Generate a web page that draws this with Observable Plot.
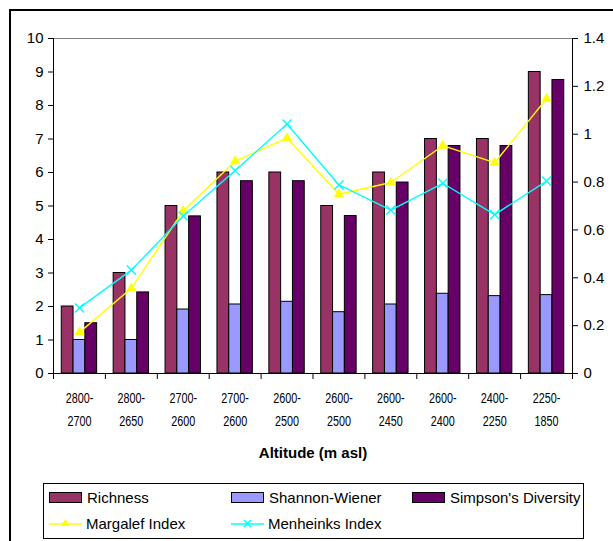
<!DOCTYPE html>
<html>
<head>
<meta charset="utf-8">
<script src="https://cdn.jsdelivr.net/npm/d3@7"></script>
<script src="https://cdn.jsdelivr.net/npm/@observablehq/plot@0.6"></script>
<style>
  html, body { margin: 0; padding: 0; background: #fff; }
  body { width: 613px; height: 541px; position: relative; overflow: hidden; font-family: "Liberation Sans", Arial, sans-serif; }
  #frame { position: absolute; left: 9px; top: 9px; width: 700px; height: 700px; border-top: 2px solid #000; border-left: 2px solid #000; }
  #chart { position: absolute; left: 0; top: 0; }
  #legend { position: absolute; left: 43px; top: 483px; width: 539px; height: 54px; border: 1px solid #000; background: #fff; }
  .item { position: absolute; height: 20px; display: flex; align-items: center; font-size: 15px; color: #000; white-space: nowrap; }
  .sw { width: 31px; height: 9px; border: 1px solid #000; margin-right: 5px; }
  .lsw { margin-right: 4px; }
</style>
</head>
<body>
<div id="frame"></div>
<div id="chart"></div>
<div id="legend"></div>
<script>
// ---- data ----
const categories = ["2800-\n2700", "2800-\n2650", "2700-\n2600", "2700-\n2600", "2600-\n2500",
                    "2600-\n2500", "2600-\n2450", "2600-\n2400", "2400-\n2250", "2250-\n1850"];
// left axis series
const richness = [2, 3, 5, 6, 6, 5, 6, 7, 7, 9];
const shannonWiener = [1.0, 1.0, 1.91, 2.06, 2.14, 1.83, 2.06, 2.38, 2.31, 2.34];
const simpsons = [1.5, 2.42, 4.69, 5.74, 5.74, 4.70, 5.70, 6.79, 6.79, 8.76];
// right axis series
const margalef = [0.172, 0.356, 0.68, 0.887, 0.984, 0.749, 0.798, 0.952, 0.881, 1.148];
const menhinick = [0.274, 0.432, 0.658, 0.848, 1.043, 0.788, 0.683, 0.795, 0.664, 0.804];
const leftTicks = [0, 1, 2, 3, 4, 5, 6, 7, 8, 9, 10];
const rightTicks = [0, 0.2, 0.4, 0.6, 0.8, 1, 1.2, 1.4];
const axisTitle = "Altitude (m asl)";

// ---- layout helpers ----
const leftMax = 10, rightMax = 1.4;
const K = leftMax / rightMax;           // right-axis value -> left-axis units
const barW = 1 / 4.4;                   // Excel gap width 140%
const idx = categories.map((_, i) => i);
const bounds = d3.range(categories.length + 1).map(i => i - 0.5);

const barSeries = [
  {name: "Richness", values: richness, color: "#993366", slot: -1},
  {name: "Shannon-Wiener", values: shannonWiener, color: "#9999ff", slot: 0},
  {name: "Simpson's Diversity", values: simpsons, color: "#660066", slot: 1}
];
const barMarks = barSeries.map(s => Plot.rect(idx, {
  x1: i => i + s.slot * barW - barW / 2,
  x2: i => i + s.slot * barW + barW / 2,
  y1: 0,
  y2: i => s.values[i],
  fill: s.color,
  stroke: "#000",
  strokeWidth: 1
}));

const chart = Plot.plot({
  width: 613,
  height: 480,
  marginLeft: 53,
  marginRight: 41,
  marginTop: 38,
  marginBottom: 107,
  style: {fontFamily: "'Liberation Sans', Arial, sans-serif", fontSize: "15px", background: "transparent", color: "#000"},
  x: {type: "linear", domain: [-0.5, categories.length - 0.5]},
  y: {domain: [0, leftMax]},
  marks: [
    Plot.ruleY([leftMax], {stroke: "#808080", strokeWidth: 1.2}),
    ...barMarks,
    Plot.line(idx, {x: i => i, y: i => margalef[i] * K, stroke: "#ffff00", strokeWidth: 1.4}),
    Plot.dot(idx, {x: i => i, y: i => margalef[i] * K, symbol: "triangle", fill: "#ffff00", r: 3.8}),
    Plot.line(idx, {x: i => i, y: i => menhinick[i] * K, stroke: "#00ffff", strokeWidth: 1.4}),
    Plot.dot(idx, {x: i => i, y: i => menhinick[i] * K, symbol: "times", stroke: "#00ffff", strokeWidth: 1.4, r: 4.2}),
    Plot.ruleY([0], {stroke: "#000"}),
    Plot.ruleX([-0.5], {stroke: "#000"}),
    Plot.ruleX([categories.length - 0.5], {stroke: "#000"}),
    Plot.axisY(leftTicks, {anchor: "left", tickSize: 5, tickPadding: 5, fontSize: 15, label: null, stroke: "#000"}),
    Plot.axisY(rightTicks.map(v => v * K), {anchor: "right", tickSize: 5, tickPadding: 6, fontSize: 15, label: null, stroke: "#000",
      tickFormat: d => String(+(d / K).toFixed(1))}),
    Plot.axisX(bounds, {anchor: "bottom", tickSize: 6, tickFormat: () => "", label: null, stroke: "#000"}),
    Plot.axisX(idx, {anchor: "bottom", tickSize: 0, tickPadding: 13, fontSize: 15, lineHeight: 1.53,
      tickFormat: i => categories[i], label: null, className: "catlab"}),
    Plot.text([axisTitle], {frameAnchor: "bottom", dy: 84, fontWeight: "bold", fontSize: 15})
  ]
});
document.getElementById("chart").appendChild(chart);

// condense the category tick labels (narrow font look)
chart.querySelectorAll("g.catlab text, .catlab text").forEach(t => {
  const tr = t.getAttribute("transform");
  if (tr) t.setAttribute("transform", tr + " scale(0.72,1)");
  else {
    const x = +t.getAttribute("x") || 0, y = +t.getAttribute("y") || 0;
    t.removeAttribute("x"); t.removeAttribute("y");
    t.setAttribute("transform", `translate(${x},${y}) scale(0.72,1)`);
  }
});

// ---- legend ----
const legend = document.getElementById("legend");
const legendItems = [
  {label: "Richness", kind: "box", color: "#993366", col: 0, row: 0},
  {label: "Shannon-Wiener", kind: "box", color: "#9999ff", col: 1, row: 0},
  {label: "Simpson's Diversity", kind: "box", color: "#660066", col: 2, row: 0},
  {label: "Margalef Index", kind: "tri", color: "#ffff00", col: 0, row: 1},
  {label: "Menheinks Index", kind: "x", color: "#00ffff", col: 1, row: 1}
];
const colX = [5, 187, 368], rowY = [3, 29];
legendItems.forEach(it => {
  const d = document.createElement("div");
  d.className = "item";
  d.style.left = colX[it.col] + "px";
  d.style.top = rowY[it.row] + "px";
  let sw;
  if (it.kind === "box") {
    sw = `<div class="sw" style="background:${it.color}"></div>`;
  } else {
    const mk = it.kind === "tri"
      ? `<path d="M16.5,5 L21,12 L12,12 Z" fill="${it.color}"/>`
      : `<path d="M13,6 L20,13 M20,6 L13,13" stroke="${it.color}" stroke-width="1.5"/>`;
    sw = `<svg class="lsw" width="33" height="18" viewBox="0 0 33 18"><line x1="0" y1="10" x2="33" y2="10" stroke="${it.color}" stroke-width="1.5"/>${mk}</svg>`;
  }
  d.innerHTML = sw + `<span>${it.label}</span>`;
  legend.appendChild(d);
});
</script>
</body>
</html>
